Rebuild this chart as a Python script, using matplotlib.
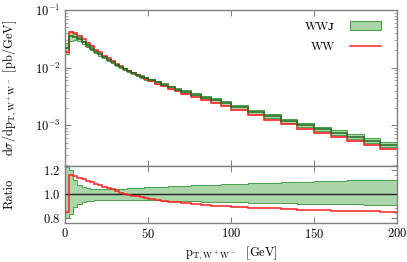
import numpy as np
import matplotlib
matplotlib.use("Agg")
import matplotlib.pyplot as plt
from matplotlib.ticker import FixedLocator, FuncFormatter, AutoMinorLocator, LogLocator, NullFormatter
from matplotlib.patches import Patch
from matplotlib.lines import Line2D

plt.rcParams['font.family'] = ['cmr10', 'DejaVu Serif']
plt.rcParams['mathtext.fontset'] = 'cm'
plt.rcParams['axes.formatter.use_mathtext'] = True

# ---------------- data ----------------
bin_edges = [0, 2.5, 5, 7.5, 10, 12.5, 15, 17.5, 20, 22.5, 25, 27.5, 30, 32.5, 35, 37.5,
             40, 42.5, 45, 47.5, 50, 54, 58, 62, 66, 70, 76, 82, 88, 94, 100,
             110, 120, 130, 140, 150, 160, 170, 180, 190, 200]

wwj = [2.15e-2, 3.55e-2, 3.45e-2, 3.15e-2, 2.75e-2, 2.42e-2, 2.14e-2, 1.90e-2, 1.70e-2, 1.53e-2,
       1.38e-2, 1.24e-2, 1.13e-2, 1.04e-2, 9.6e-3, 8.8e-3, 8.1e-3, 7.5e-3, 7.0e-3, 6.5e-3,
       6.1e-3, 5.55e-3, 5.0e-3, 4.55e-3, 4.15e-3, 3.75e-3, 3.35e-3, 3.0e-3, 2.7e-3, 2.42e-3,
       2.07e-3, 1.70e-3, 1.42e-3, 1.19e-3, 1.0e-3, 8.5e-4, 7.3e-4, 6.2e-4, 5.35e-4, 4.6e-4]

ww = [1.83e-2, 4.12e-2, 3.96e-2, 3.58e-2, 3.09e-2, 2.69e-2, 2.35e-2, 2.06e-2, 1.83e-2, 1.62e-2,
      1.45e-2, 1.29e-2, 1.16e-2, 1.05e-2, 9.6e-3, 8.71e-3, 7.98e-3, 7.35e-3, 6.83e-3, 6.31e-3,
      5.87e-3, 5.29e-3, 4.73e-3, 4.26e-3, 3.86e-3, 3.46e-3, 3.06e-3, 2.72e-3, 2.43e-3, 2.17e-3,
      1.84e-3, 1.50e-3, 1.25e-3, 1.04e-3, 8.7e-4, 7.35e-4, 6.28e-4, 5.32e-4, 4.57e-4, 3.92e-4]

# WWJ uncertainty band relative to central value
wwj_rel_up = [1.23, 1.20, 1.12, 1.08, 1.06, 1.05, 1.045, 1.04, 1.04, 1.04,
              1.04, 1.04, 1.042, 1.044, 1.046, 1.048, 1.05, 1.052, 1.054, 1.056,
              1.058, 1.06, 1.062, 1.065, 1.068, 1.071, 1.074, 1.077, 1.08, 1.083,
              1.087, 1.091, 1.095, 1.099, 1.103, 1.107, 1.111, 1.115, 1.118, 1.121]
wwj_rel_dn = [0.80, 0.83, 0.89, 0.92, 0.935, 0.94, 0.945, 0.948, 0.95, 0.95,
              0.951, 0.951, 0.952, 0.952, 0.952, 0.952, 0.952, 0.952, 0.951, 0.951,
              0.950, 0.948, 0.946, 0.944, 0.942, 0.940, 0.938, 0.936, 0.934, 0.932,
              0.930, 0.927, 0.924, 0.922, 0.920, 0.918, 0.916, 0.914, 0.912, 0.910]
# WW (small) uncertainty band relative to central value
ww_rel_up = [1.03] * 40
ww_rel_dn = [0.96] * 40

x_ticks = [0, 50, 100, 150, 200]
ratio_ticks = [0.8, 1.0, 1.2]

# ---------------- derived ----------------
edges = np.array(bin_edges)
wwj = np.array(wwj)
ww = np.array(ww)
up = np.array(wwj_rel_up)
dn = np.array(wwj_rel_dn)
wup = np.array(ww_rel_up)
wdn = np.array(ww_rel_dn)

g_fill = '#aad6aa'
g_edge = '#4a9e4a'
g_line = '#1f6b1f'
r_line = '#ff2020'
r_fill = '#ffa8a8'
spine_c = '#808080'

W, H = 407, 262
fig = plt.figure(figsize=(W / 100, H / 100), dpi=100)
ax = fig.add_axes([65 / W, 1 - 165.5 / H, 332 / W, 155.5 / H])
axr = fig.add_axes([65 / W, 1 - 223 / H, 332 / W, 57.5 / H], sharex=ax)

# main panel
ax.stairs(wwj * up, edges, baseline=wwj * dn, fill=True, color=g_fill, lw=0, zorder=2)
ax.stairs(wwj * up, edges, baseline=None, color=g_edge, lw=0.7, zorder=3)
ax.stairs(wwj * dn, edges, baseline=None, color=g_edge, lw=0.7, zorder=3)
ax.stairs(ww * wup, edges, baseline=ww * wdn, fill=True, color=r_fill, lw=0, alpha=0.7, zorder=4)
ax.stairs(ww, edges, baseline=None, color=r_line, lw=1.1, zorder=5)
ax.stairs(wwj, edges, baseline=None, color=g_line, lw=1.1, zorder=6)
ax.set_yscale('log')
ax.set_ylim(2e-4, 0.1)
ax.set_xlim(0, 200)
ax.yaxis.set_major_locator(LogLocator(base=10, numticks=10))
ax.yaxis.set_minor_locator(LogLocator(base=10, subs=np.arange(2, 10), numticks=20))
ax.yaxis.set_minor_formatter(NullFormatter())
ax.set_ylabel(r'$\mathrm{d}\sigma/\mathrm{dp}_{\mathrm{T,W^+W^-}}$ [pb/GeV]', fontsize=9)
plt.setp(ax.get_xticklabels(), visible=False)

# ratio panel
axr.stairs(up, edges, baseline=dn, fill=True, color=g_fill, lw=0, zorder=2)
axr.stairs(up, edges, baseline=None, color=g_edge, lw=0.7, zorder=3)
axr.stairs(dn, edges, baseline=None, color=g_edge, lw=0.7, zorder=3)
axr.stairs(wwj / wwj, edges, baseline=None, color='#222222', lw=1.0, zorder=4)
axr.stairs(ww / wwj, edges, baseline=None, color=r_line, lw=1.1, zorder=6)
axr.set_ylim(0.757, 1.24)
axr.set_xlim(0, 200)
axr.yaxis.set_major_locator(FixedLocator(ratio_ticks))
axr.yaxis.set_minor_locator(AutoMinorLocator(5))
axr.yaxis.set_major_formatter(FuncFormatter(lambda v, p: f'${v:.1f}$'))
axr.xaxis.set_major_locator(FixedLocator(x_ticks))
axr.xaxis.set_major_formatter(FuncFormatter(lambda v, p: f'${v:.0f}$'))
axr.set_ylabel('Ratio', fontsize=9)
axr.set_xlabel(r'$\mathrm{p}_{\mathrm{T,W^+W^-}}$  [GeV]', fontsize=9, labelpad=2)

for a in (ax, axr):
    for s in a.spines.values():
        s.set_color(spine_c)
        s.set_linewidth(1.0)
    a.tick_params(which='both', direction='in', top=True, right=True, color=spine_c,
                  labelsize=9, pad=3)
    a.tick_params(which='major', length=4, width=0.7)
    a.tick_params(which='minor', length=2, width=0.5)

ax.yaxis.set_label_coords(-0.140, 0.5)
axr.yaxis.set_label_coords(-0.150, 0.5)

handles = [Patch(facecolor=g_fill, edgecolor=g_edge, lw=0.8),
           Line2D([], [], color=r_line, lw=1.1)]
labels = ['WW\u1d0a', 'WW']
leg = ax.legend(handles, labels, loc='upper right', frameon=False, markerfirst=False,
                fontsize=8.5, handlelength=2.7, handleheight=0.9, handletextpad=1.2,
                labelspacing=0.8, borderaxespad=0.5, bbox_to_anchor=(0.985, 1.0))

fig.savefig('out.png', dpi=100)
